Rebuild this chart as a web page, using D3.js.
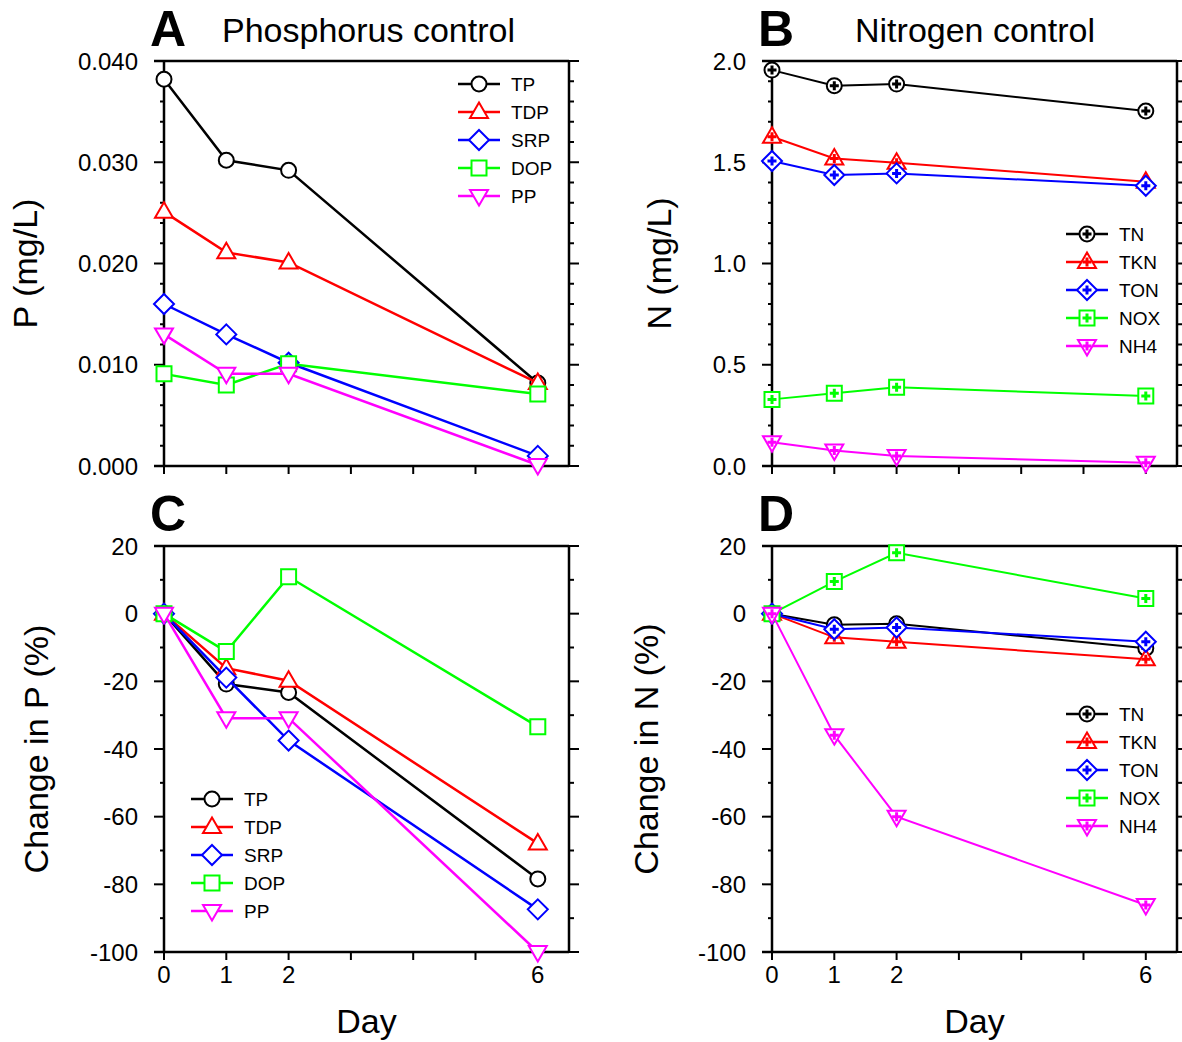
<!DOCTYPE html>
<html>
<head>
<meta charset="utf-8">
<script src="https://cdn.jsdelivr.net/npm/d3@7"></script>
<style>
  body { margin: 0; background: #fff; }
  svg text { font-family: "Liberation Sans", Arial, sans-serif; fill: #000; }
</style>
</head>
<body>
<svg id="chart" width="1182" height="1042"></svg>
<script>
const DAYS = [0, 1, 2, 6];
const X_TICKS = [0, 1, 2, 3, 4, 5, 6];
const X_LABELS = ["0", "1", "2", "", "", "", "6"];

// Panel A - phosphorus concentrations (mg/L)
const P_NAMES = ["TP", "TDP", "SRP", "DOP", "PP"];
const TP = [0.0382, 0.0302, 0.0292, 0.0082];
const TDP = [0.0251, 0.0211, 0.0201, 0.0082];
const SRP = [0.0160, 0.0130, 0.0102, 0.0010];
const DOP = [0.0091, 0.0080, 0.0101, 0.0071];
const PP = [0.0130, 0.0091, 0.0091, 0.0001];

// Panel B - nitrogen concentrations (mg/L)
const N_NAMES = ["TN", "TKN", "TON", "NOX", "NH4"];
const TN = [1.955, 1.878, 1.886, 1.753];
const TKN = [1.626, 1.519, 1.498, 1.404];
const TON = [1.506, 1.437, 1.445, 1.384];
const NOX = [0.329, 0.359, 0.389, 0.346];
const NH4 = [0.117, 0.076, 0.049, 0.016];

// Panel C - change in P (%)
const TP_PCT = [0, -20.8, -23.3, -78.4];
const TDP_PCT = [0, -16.1, -19.8, -67.9];
const SRP_PCT = [0, -18.9, -37.5, -87.4];
const DOP_PCT = [0, -11.2, 10.9, -33.4];
const PP_PCT = [0, -30.9, -30.9, -100];

// Panel D - change in N (%)
const TN_PCT = [0, -3.3, -3.0, -10.2];
const TKN_PCT = [0, -7.0, -8.3, -13.5];
const TON_PCT = [0, -4.6, -4.1, -8.3];
const NOX_PCT = [0, 9.5, 18.0, 4.5];
const NH4_PCT = [0, -35.9, -60.0, -86.1];

const COLORS = ["#000000", "#ff0000", "#0000ff", "#00ff00", "#ff00ff"];
const SHAPES = ["circle", "triangleUp", "diamond", "square", "triangleDown"];

const svg = d3.select("#chart");

function markerPath(shape) {
    const p = d3.path();
    if (shape === "circle") {
        p.moveTo(7.5, 0);
        p.arc(0, 0, 7.5, 0, 2 * Math.PI);
    } else if (shape === "triangleUp") {
        p.moveTo(0, -9.5); p.lineTo(9, 6); p.lineTo(-9, 6); p.closePath();
    } else if (shape === "triangleDown") {
        p.moveTo(0, 9.5); p.lineTo(9, -6); p.lineTo(-9, -6); p.closePath();
    } else if (shape === "diamond") {
        p.moveTo(0, -10); p.lineTo(10, 0); p.lineTo(0, 10); p.lineTo(-10, 0); p.closePath();
    } else {
        p.rect(-7.5, -7.5, 15, 15);
    }
    return p.toString();
}

const PLUS = "M-1.5,-4.5h3v3h3v3h-3v3h-3v-3h-3v-3h3z";

function drawMarker(g, shape, color, plus) {
    g.append("path").attr("d", markerPath(shape))
        .attr("fill", "#fff").attr("stroke", color).attr("stroke-width", 2);
    if (plus) g.append("path").attr("d", PLUS).attr("fill", color);
}

function drawPanel(o) {
    const g = svg.append("g");
    const x = d3.scaleLinear().domain([0, 6]).range([o.axisX, o.axisX + 6 * 62.3]);
    const y = d3.scaleLinear().domain(o.yDomain).range([o.bottom, o.top]);

    // frame
    const axisW = 2.5;
    g.append("line").attr("x1", o.left).attr("x2", o.right).attr("y1", o.top).attr("y2", o.top)
        .attr("stroke", "#000").attr("stroke-width", axisW);
    g.append("line").attr("x1", o.left).attr("x2", o.right).attr("y1", o.bottom).attr("y2", o.bottom)
        .attr("stroke", "#000").attr("stroke-width", axisW);
    g.append("line").attr("x1", o.axisX).attr("x2", o.axisX).attr("y1", o.top).attr("y2", o.bottom)
        .attr("stroke", "#000").attr("stroke-width", axisW);
    g.append("line").attr("x1", o.right).attr("x2", o.right).attr("y1", o.top).attr("y2", o.bottom)
        .attr("stroke", "#000").attr("stroke-width", axisW);

    // y ticks (left and right, outward)
    const minor = d3.range(o.yDomain[0], o.yDomain[1] + o.minorStep / 2, o.minorStep);
    minor.forEach(v => {
        const isMajor = o.majors.some(m => Math.abs(m - v) < o.minorStep / 10);
        const len = isMajor ? 10 : 4;
        g.append("line").attr("x1", o.axisX - len).attr("x2", o.axisX)
            .attr("y1", y(v)).attr("y2", y(v)).attr("stroke", "#000").attr("stroke-width", 2);
        g.append("line").attr("x1", o.right).attr("x2", o.right + (isMajor ? 10 : 5))
            .attr("y1", y(v)).attr("y2", y(v)).attr("stroke", "#000").attr("stroke-width", 2);
    });
    o.majors.forEach((v, i) => {
        g.append("text").attr("x", o.left - 16).attr("y", y(v)).attr("dy", "0.36em")
            .attr("text-anchor", "end").attr("font-size", 24).text(o.yLabels[i]);
    });

    // x ticks
    X_TICKS.forEach((v, i) => {
        g.append("line").attr("x1", x(v)).attr("x2", x(v)).attr("y1", o.bottom).attr("y2", o.bottom + 8)
            .attr("stroke", "#000").attr("stroke-width", 2);
        if (o.xLabels) {
            g.append("text").attr("x", x(v)).attr("y", o.bottom + 31)
                .attr("text-anchor", "middle").attr("font-size", 24).text(X_LABELS[i]);
        }
    });
    if (o.xLabels) {
        g.append("text").attr("x", x(3.25)).attr("y", 1033)
            .attr("text-anchor", "middle").attr("font-size", 34).text("Day");
    }

    // y label
    g.append("text").attr("transform", `translate(${o.yLabelX},${(o.top + o.bottom) / 2}) rotate(-90)`)
        .attr("text-anchor", "middle").attr("font-size", 34).text(o.yTitle);

    // letter and title
    g.append("text").attr("x", o.left - 4).attr("y", o.top - 15)
        .attr("font-size", 50).attr("font-weight", "bold").text(o.letter);
    if (o.title) {
        g.append("text").attr("x", o.titleX).attr("y", o.top - 19)
            .attr("font-size", 34).text(o.title);
    }

    // series
    const line = d3.line().x((d, i) => x(DAYS[i])).y(d => y(d));
    o.series.forEach((s, k) => {
        g.append("path").attr("d", line(s)).attr("fill", "none")
            .attr("stroke", COLORS[k]).attr("stroke-width", o.lineW);
        s.forEach((v, i) => {
            const m = g.append("g").attr("transform", `translate(${x(DAYS[i])},${y(v)})`);
            drawMarker(m, SHAPES[k], COLORS[k], o.plus);
        });
    });

    // legend
    o.names.forEach((name, k) => {
        const ly = o.legendY + k * 28;
        g.append("line").attr("x1", o.legendX - 21).attr("x2", o.legendX + 21)
            .attr("y1", ly).attr("y2", ly).attr("stroke", COLORS[k]).attr("stroke-width", 2.5);
        const m = g.append("g").attr("transform", `translate(${o.legendX},${ly})`);
        drawMarker(m, SHAPES[k], COLORS[k], o.plus);
        g.append("text").attr("x", o.legendX + 32).attr("y", ly).attr("dy", "0.36em")
            .attr("font-size", 19).text(name);
    });
}

const leftCol = { left: 154, axisX: 164, right: 569 };
const rightCol = { left: 762, axisX: 772, right: 1177 };
const topRow = { top: 61, bottom: 466 };
const botRow = { top: 546, bottom: 952 };

drawPanel({
    ...leftCol, ...topRow, letter: "A", title: "Phosphorus control", titleX: 222,
    yDomain: [0, 0.04], minorStep: 0.002, majors: [0, 0.01, 0.02, 0.03, 0.04],
    yLabels: ["0.000", "0.010", "0.020", "0.030", "0.040"], yTitle: "P (mg/L)", yLabelX: 37,
    series: [TP, TDP, SRP, DOP, PP], names: P_NAMES, plus: false, lineW: 2.5,
    legendX: 479, legendY: 84, xLabels: false
});
drawPanel({
    ...rightCol, ...topRow, letter: "B", title: "Nitrogen control", titleX: 855,
    yDomain: [0, 2], minorStep: 0.1, majors: [0, 0.5, 1, 1.5, 2],
    yLabels: ["0.0", "0.5", "1.0", "1.5", "2.0"], yTitle: "N (mg/L)", yLabelX: 671,
    series: [TN, TKN, TON, NOX, NH4], names: N_NAMES, plus: true, lineW: 2,
    legendX: 1087, legendY: 234, xLabels: false
});
drawPanel({
    ...leftCol, ...botRow, letter: "C",
    yDomain: [-100, 20], minorStep: 10, majors: [-100, -80, -60, -40, -20, 0, 20],
    yLabels: ["-100", "-80", "-60", "-40", "-20", "0", "20"], yTitle: "Change in P (%)", yLabelX: 48,
    series: [TP_PCT, TDP_PCT, SRP_PCT, DOP_PCT, PP_PCT], names: P_NAMES, plus: false, lineW: 2.5,
    legendX: 212, legendY: 799, xLabels: true
});
drawPanel({
    ...rightCol, ...botRow, letter: "D",
    yDomain: [-100, 20], minorStep: 10, majors: [-100, -80, -60, -40, -20, 0, 20],
    yLabels: ["-100", "-80", "-60", "-40", "-20", "0", "20"], yTitle: "Change in N (%)", yLabelX: 658,
    series: [TN_PCT, TKN_PCT, TON_PCT, NOX_PCT, NH4_PCT], names: N_NAMES, plus: true, lineW: 2,
    legendX: 1087, legendY: 714, xLabels: true
});
</script>
</body>
</html>
